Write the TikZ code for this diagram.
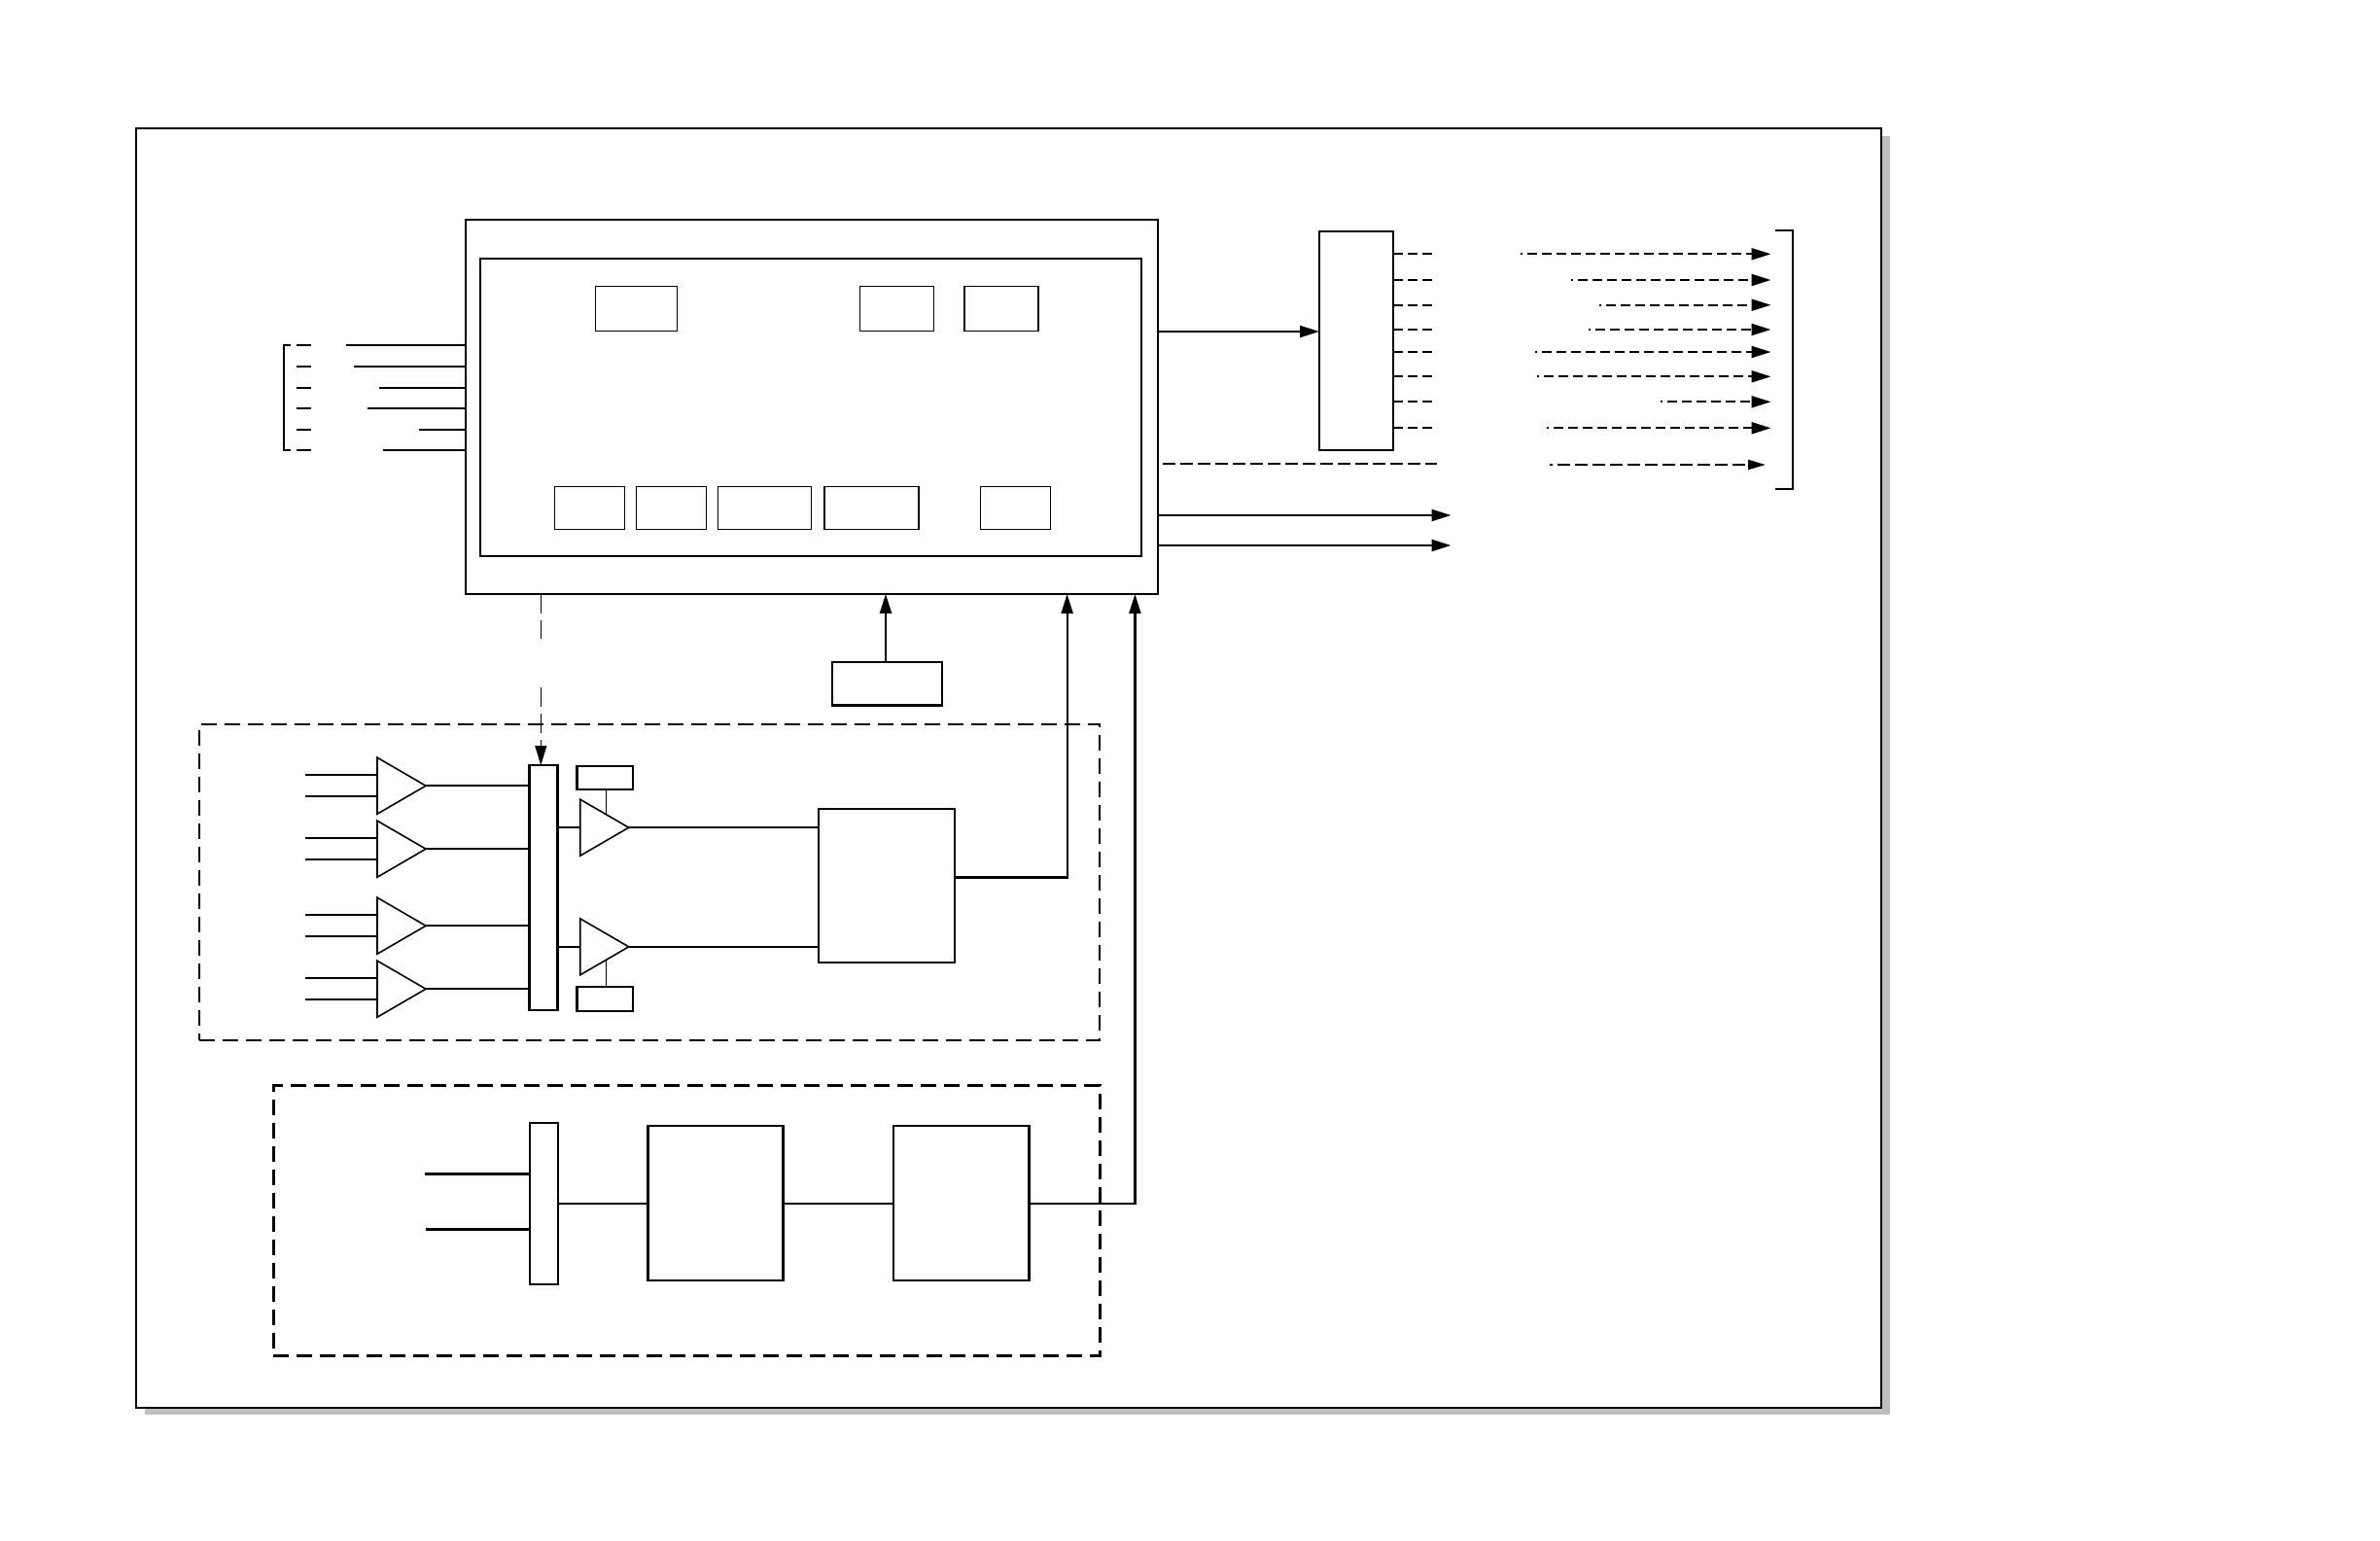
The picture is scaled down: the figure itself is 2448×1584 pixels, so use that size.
\documentclass[tikz,border=0pt]{standalone}
\usetikzlibrary{arrows.meta,shapes.geometric}
\begin{document}
\begin{tikzpicture}[x=1pt,y=-1pt,>={Triangle[length=20pt,width=12pt]},line width=2.2pt]
			
			% ==========================================
			% 1. COLOURS AND STYLES
			% ==========================================
			\definecolor{shadowcol}{RGB}{191, 191, 191}
			\tikzset{
				box/.style={draw, rectangle, inner sep=0pt, outer sep=0pt, line width=2.2pt},
				cell/.style={box, line width=1.3pt},
				group/.style={box, dash pattern=on 16pt off 8pt},
				amp/.style={draw, isosceles triangle, isosceles triangle stretches, inner sep=0pt, outer sep=0pt, line width=1.6pt, minimum width=58pt, minimum height=50pt, anchor=apex},
				sig/.style={dash pattern=on 10pt off 5pt},
				longsig/.style={dash pattern=on 13pt off 5pt},
				sel/.style={line width=1.2pt, dash pattern=on 20pt off 7pt},
			}
			\useasboundingbox (0,0) rectangle (2448,1584);
			
			% ==========================================
			% 2. FRAME WITH ITS SHADOW
			% ==========================================
			\fill[shadowcol] (149,140) rectangle (1944,1455);
			\node[box, fill=white, line width=2.5pt, minimum width=1795pt, minimum height=1316pt] (frame) at (1037.5,790) {};
			
			% ==========================================
			% 3. MAIN BLOCK AND ITS CELLS
			% ==========================================
			\node[box, minimum width=712pt, minimum height=385pt] (main) at (835,418.4) {};
			\node[box, minimum width=680pt, minimum height=306pt] (core) at (834,419) {};
			
			\node[cell, minimum width=84pt, minimum height=46pt] (regA) at (654.8,317.5) {};
			\node[cell, minimum width=76pt, minimum height=46pt] (regB) at (922.4,317.5) {};
			\node[cell, minimum width=76pt, minimum height=46pt] (regC) at (1030,317.5) {};
			
			\node[cell, minimum width=72pt, minimum height=44pt] (portA) at (606.5,522.6) {};
			\node[cell, minimum width=72pt, minimum height=44pt] (portB) at (690.4,522.6) {};
			\node[cell, minimum width=96pt, minimum height=44pt] (portC) at (786.2,522.6) {};
			\node[cell, minimum width=97pt, minimum height=44pt] (portD) at (896.4,522.6) {};
			\node[cell, minimum width=72pt, minimum height=44pt] (portE) at (1044.2,522.6) {};
			
			% ==========================================
			% 4. LEFT SIDE INPUTS AND BRACKET
			% ==========================================
			\foreach \ya/\xa in {355/356, 376.8/364, 398.6/390, 420/378, 441.8/431, 462.9/394} {
				\coordinate (busin) at (\xa,\ya);
				\draw (busin) -- (busin -| main.west);
				\draw (304.7,\ya) -- (320,\ya);
			}
			\draw (299,355) -- (292,355) -- (292,463) -- (299,463);
			
			% ==========================================
			% 5. RIGHT SIDE: DECODER AND OUTPUTS
			% ==========================================
			\node[box, minimum width=76pt, minimum height=225.5pt] (dec) at (1395,350.5) {};
			\coordinate (decin) at (1191,341);
			\draw[->] (decin) -- (decin -| dec.west);
			
			\foreach \ya/\xa in {261.3/1564, 288/1616, 313.7/1645, 339/1634, 362/1579, 387.3/1580.5, 413.3/1707.6, 440.3/1591} {
				\coordinate (stub) at (1475,\ya);
				\coordinate (far) at (\xa,\ya);
				\coordinate (tip) at (1821.5,\ya);
				\draw[sig] (stub -| dec.east) -- (stub);
				\draw[sig, dash phase=8pt, ->] (far) -- (tip);
			}
			
			\coordinate (lastA) at (1478,477.3);
			\coordinate (lastB) at (1593.8,478);
			\coordinate (lastC) at (1816,478);
			\draw[longsig, dash phase=13pt] (lastA -| main.east) -- (lastA);
			\draw[longsig, dash phase=10pt, -{Triangle[length=18pt,width=10pt]}] (lastB) -- (lastC);
			
			\draw (1826.4,236.7) -- (1844.3,236.7) -- (1844.3,502.7) -- (1826.4,502.7);
			
			\coordinate (outA) at (1492.5,530);
			\coordinate (outB) at (1492.5,561);
			\draw[->] (outA -| main.east) -- (outA);
			\draw[->] (outB -| main.east) -- (outB);
			
			% ==========================================
			% 6. SMALL BLOCK BELOW THE MAIN BLOCK
			% ==========================================
			\node[box, minimum width=113pt, minimum height=44.5pt] (clk) at (912.4,703.3) {};
			\draw[->] (clk.north -| 911,0) -- (main.south -| 911,0);
			
			% ==========================================
			% 7. FIRST DASHED GROUP
			% ==========================================
			\node[group, minimum width=926.5pt, minimum height=325pt] (groupA) at (668,907.2) {};
			\node[box, minimum width=29pt, minimum height=251.6pt] (mux) at (558.9,912.8) {};
			\node[box, minimum width=139.6pt, minimum height=158.3pt] (adc) at (911.8,911.2) {};
			\node[box, minimum width=57.5pt, minimum height=24.3pt] (refA) at (622.3,800.2) {};
			\node[box, minimum width=57.5pt, minimum height=24.6pt] (refB) at (622.3,1027.3) {};
			
			% input amplifiers
			\foreach \i/\ya in {1/808.2, 2/873.2, 3/952.2, 4/1017.2} {
				\node[amp] (amp\i) at (438,\ya) {};
				\coordinate (inA) at (314.3,\ya-11);
				\coordinate (inB) at (314.3,\ya+11);
				\draw (inA) -- (inA -| amp\i.lower side);
				\draw (inB) -- (inB -| amp\i.lower side);
				\draw (amp\i.apex) -- (amp\i.apex -| mux.west);
			}
			
			% reference lines, under the output amplifiers
			\coordinate (tapA) at (623.5,837);
			\coordinate (tapB) at (623.5,988.3);
			\draw[line width=1.6pt] (tapA |- refA.south) -- (tapA);
			\draw[line width=1.6pt] (tapB |- refB.north) -- (tapB);
			
			% output amplifiers
			\foreach \i/\ya in {5/851.2, 6/973.8} {
				\node[amp] (amp\i) at (646.7,\ya) {};
				\draw (amp\i.lower side -| mux.east) -- (amp\i.lower side);
				\draw (amp\i.apex) -- (amp\i.apex -| adc.west);
			}
			
			% dashed select line
			\coordinate (selA) at (556.3,657);
			\coordinate (selB) at (556.3,707);
			\draw[sel] (selA |- main.south) -- (selA);
			\draw[sel, ->] (selB) -- (selB |- mux.north);
			
			\coordinate (adcout) at (981.6,902.5);
			\coordinate (entryA) at (1097.6,611);
			\draw[->] (adcout) -| (entryA);
			
			% ==========================================
			% 8. SECOND DASHED GROUP
			% ==========================================
			\node[group, minimum width=850pt, minimum height=278pt] (groupB) at (706.4,1255.5) {};
			\node[box, minimum width=29pt, minimum height=166.3pt] (muxB) at (559.3,1238.2) {};
			\node[box, minimum width=139pt, minimum height=158.6pt] (filtA) at (736,1237.4) {};
			\node[box, minimum width=139.6pt, minimum height=158.6pt] (filtB) at (988.6,1237.4) {};
			
			\coordinate (inC) at (437,1207.4);
			\coordinate (inD) at (438,1264.4);
			\draw (inC) -- (inC -| muxB.west);
			\draw (inD) -- (inD -| muxB.west);
			
			\coordinate (chain) at (574,1238);
			\draw (chain) -- (chain -| filtA.west);
			\draw (chain -| filtA.east) -- (chain -| filtB.west);
			
			\coordinate (entryB) at (1167.4,611);
			\draw[->] (chain -| filtB.east) -| (entryB);
			
		\end{tikzpicture}
\end{document}
